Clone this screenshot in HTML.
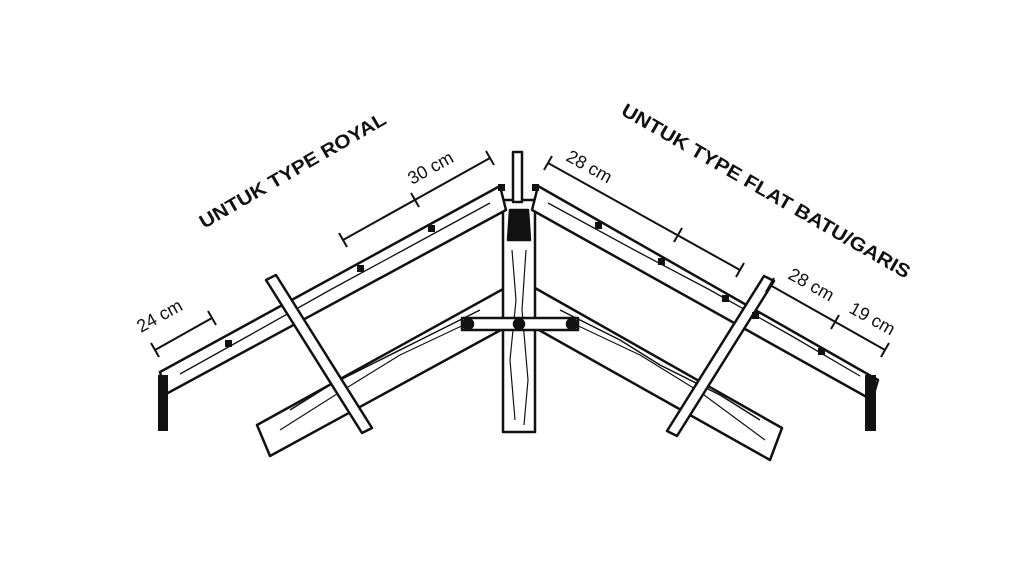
<!DOCTYPE html>
<html><head><meta charset="utf-8"><style>
html,body{margin:0;padding:0;background:#fff;}
svg{display:block}
text{font-family:"Liberation Sans",sans-serif;fill:#111}
</style></head><body>
<svg width="1024" height="576" viewBox="0 0 1024 576" xmlns="http://www.w3.org/2000/svg">
<rect width="1024" height="576" fill="#fff"/>
<g stroke="#111" stroke-width="2.5" fill="#fff" stroke-linejoin="round">
  <polygon points="505,288 257,425 270,456 510,325"/>
  <polyline points="480,310 420,340 380,360 330,385 290,410" fill="none" stroke-width="1.5"/>
  <polyline points="470,322 400,355 340,392 280,430" fill="none" stroke-width="1.2"/>
  <polygon points="535,288 782,428 770,460 530,325"/>
  <polyline points="560,310 620,340 660,365 720,395 760,420" fill="none" stroke-width="1.5"/>
  <polyline points="570,322 640,355 700,392 765,440" fill="none" stroke-width="1.2"/>
  <rect x="503" y="200" width="32" height="232"/>
  <rect x="513" y="152" width="9" height="50" fill="#fff"/>
  <path d="M510 210 L528 210 L530 240 L508 240 Z" fill="#111"/>
  <polyline points="512,250 516,300 510,360 515,420" fill="none" stroke-width="1.2"/>
  <polyline points="526,250 522,310 528,380 524,425" fill="none" stroke-width="1.2"/>
  <polygon points="500,186 160,372 166,394 506,210"/>
  <polyline points="490,203 400,252 330,290 250,335 180,374" fill="none" stroke-width="1.3"/>
  <polygon points="538,186 878,380 872,400 532,210"/>
  <polyline points="548,203 640,253 710,290 790,335 860,376" fill="none" stroke-width="1.3"/>
  <rect x="462" y="318" width="116" height="12"/>
  <circle cx="468" cy="324" r="5" fill="#111"/>
  <circle cx="519" cy="324" r="5" fill="#111"/>
  <circle cx="572" cy="324" r="5" fill="#111"/>
  <polygon points="266,280 276,275 372,428 362,433"/>
  <polygon points="764,276 774,281 677,436 667,431"/>
</g>
<rect x="158" y="375" width="10" height="56" fill="#111"/>
<rect x="865" y="375" width="11" height="56" fill="#111"/>
<g fill="#111">
  <rect x="225" y="340" width="7" height="7"/><rect x="357" y="265" width="7" height="7"/>
  <rect x="428" y="225" width="7" height="7"/><rect x="498" y="184" width="7" height="7"/>
  <rect x="595" y="222" width="7" height="7"/><rect x="658" y="258" width="7" height="7"/>
  <rect x="722" y="295" width="7" height="7"/><rect x="818" y="348" width="7" height="7"/>
  <rect x="532" y="184" width="7" height="7"/><rect x="752" y="312" width="7" height="7"/>
</g>
<g stroke="#111" stroke-width="2" fill="none">
  <line x1="343" y1="240" x2="490" y2="158"/>
  <line x1="339" y1="233" x2="347" y2="247"/><line x1="411" y1="193" x2="419" y2="207"/><line x1="486" y1="151" x2="494" y2="165"/>
  <line x1="155" y1="350" x2="212" y2="318"/>
  <line x1="151" y1="343" x2="159" y2="357"/><line x1="208" y1="311" x2="216" y2="325"/>
  <line x1="548" y1="163" x2="740" y2="270"/>
  <line x1="552" y1="156" x2="544" y2="170"/><line x1="682" y1="228" x2="674" y2="242"/><line x1="744" y1="263" x2="736" y2="277"/>
  <line x1="770" y1="285" x2="885" y2="350"/>
  <line x1="774" y1="278" x2="766" y2="292"/><line x1="839" y1="315" x2="831" y2="329"/><line x1="889" y1="343" x2="881" y2="357"/>
</g>
<g font-size="18">
  <text transform="translate(412,185) rotate(-29)">30 cm</text>
  <text transform="translate(141,333) rotate(-29)">24 cm</text>
  <text transform="translate(565,160) rotate(29)">28 cm</text>
  <text transform="translate(787,278) rotate(29)">28 cm</text>
  <text transform="translate(848,312) rotate(29)">19 cm</text>
</g>
<g font-size="19" font-weight="bold">
  <text transform="translate(204,229) rotate(-30)" textLength="212" lengthAdjust="spacingAndGlyphs">UNTUK TYPE ROYAL</text>
  <text transform="translate(620,114) rotate(30)" textLength="330" lengthAdjust="spacingAndGlyphs">UNTUK TYPE FLAT BATU/GARIS</text>
</g>
</svg>
</body></html>
